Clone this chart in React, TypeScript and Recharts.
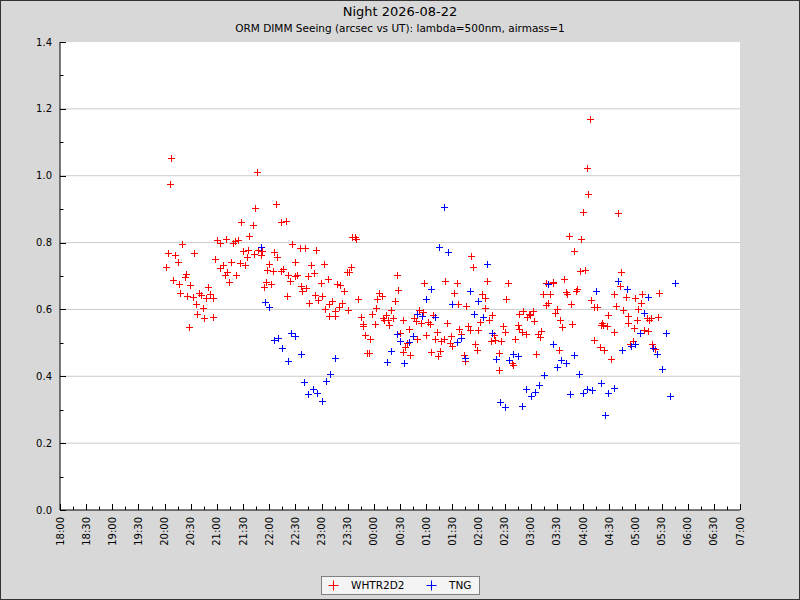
import { ScatterChart, Scatter, XAxis, YAxis, CartesianGrid, Legend } from "recharts";

// ORM DIMM seeing, night 2026-08-22. Times are UT, values are arcsec.
const whtrTime = [
  "20:02", "20:04", "20:06", "20:07", "20:10", "20:12", "20:15", "20:17", "20:18", "20:20",
  "20:23", "20:25", "20:26", "20:28", "20:29", "20:32", "20:34", "20:36", "20:37", "20:40",
  "20:42", "20:44", "20:45", "20:48", "20:50", "20:52", "20:55", "20:56", "20:58", "21:00",
  "21:03", "21:04", "21:07", "21:09", "21:10", "21:12", "21:14", "21:16", "21:18", "21:21",
  "21:22", "21:24", "21:26", "21:28", "21:30", "21:32", "21:34", "21:36", "21:37", "21:41",
  "21:42", "21:44", "21:46", "21:47", "21:50", "21:52", "21:54", "21:56", "21:58", "22:00",
  "22:02", "22:04", "22:06", "22:08", "22:09", "22:13", "22:14", "22:16", "22:19", "22:20",
  "22:22", "22:24", "22:26", "22:29", "22:30", "22:32", "22:35", "22:36", "22:38", "22:41",
  "22:42", "22:44", "22:46", "22:48", "22:51", "22:53", "22:54", "22:56", "22:59", "23:00",
  "23:03", "23:04", "23:07", "23:08", "23:09", "23:12", "23:15", "23:16", "23:18", "23:20",
  "23:21", "23:24", "23:26", "23:29", "23:30", "23:32", "23:34", "23:35", "23:38", "23:40",
  "23:42", "23:45", "23:47", "23:48", "23:50", "23:52", "23:54", "23:56", "23:58", "00:01",
  "00:02", "00:04", "00:06", "00:09", "00:11", "00:12", "00:14", "00:16", "00:17", "00:20",
  "00:22", "00:24", "00:26", "00:28", "00:30", "00:33", "00:34", "00:36", "00:38", "00:40",
  "00:42", "00:46", "00:48", "00:49", "00:52", "00:54", "00:56", "00:58", "01:00", "01:02",
  "01:04", "01:05", "01:08", "01:10", "01:12", "01:14", "01:16", "01:17", "01:21", "01:22",
  "01:24", "01:27", "01:28", "01:30", "01:32", "01:35", "01:36", "01:38", "01:40", "01:43",
  "01:44", "01:46", "01:48", "01:50", "01:52", "01:54", "01:56", "01:58", "02:00", "02:02",
  "02:04", "02:07", "02:08", "02:10", "02:12", "02:14", "02:16", "02:18", "02:19", "02:23",
  "02:24", "02:26", "02:28", "02:30", "02:32", "02:34", "02:39", "02:40", "02:42", "02:45",
  "02:46", "02:47", "02:50", "02:51", "02:55", "02:56", "02:58", "02:59", "03:02", "03:04",
  "03:06", "03:08", "03:11", "03:12", "03:14", "03:17", "03:18", "03:20", "03:22", "03:25",
  "03:26", "03:28", "03:30", "03:32", "03:34", "03:36", "03:38", "03:40", "03:42", "03:44",
  "03:46", "03:47", "03:50", "03:52", "03:53", "03:57", "03:58", "04:00", "04:02", "04:04",
  "04:06", "04:08", "04:09", "04:12", "04:13", "04:16", "04:19", "04:20", "04:22", "04:23",
  "04:24", "04:28", "04:29", "04:32", "04:35", "04:36", "04:38", "04:40", "04:42", "04:44",
  "04:46", "04:49", "04:51", "04:52", "04:54", "04:57", "04:58", "05:00", "05:02", "05:03",
  "05:07", "05:08", "05:10", "05:13", "05:14", "05:16", "05:18", "05:19", "05:23", "05:26",
  "05:27",
];
const whtrSeeing = [
  0.727, 0.769, 0.976, 1.052, 0.689, 0.763, 0.742, 0.676, 0.649, 0.796,
  0.697, 0.706, 0.640, 0.547, 0.673, 0.637, 0.769, 0.616, 0.586, 0.649,
  0.643, 0.604, 0.574, 0.634, 0.668, 0.646, 0.634, 0.577, 0.751, 0.809,
  0.799, 0.724, 0.733, 0.703, 0.811, 0.712, 0.682, 0.742, 0.799, 0.806,
  0.703, 0.808, 0.739, 0.863, 0.776, 0.733, 0.757, 0.779, 0.821, 0.853,
  0.766, 0.904, 1.012, 0.778, 0.763, 0.775, 0.667, 0.682, 0.718, 0.736,
  0.676, 0.715, 0.773, 0.916, 0.757, 0.862, 0.715, 0.721, 0.865, 0.640,
  0.703, 0.685, 0.796, 0.742, 0.700, 0.703, 0.784, 0.670, 0.655, 0.784,
  0.664, 0.700, 0.619, 0.733, 0.709, 0.643, 0.778, 0.628, 0.679, 0.640,
  0.736, 0.601, 0.691, 0.616, 0.580, 0.625, 0.595, 0.580, 0.676, 0.607,
  0.673, 0.619, 0.655, 0.712, 0.598, 0.712, 0.727, 0.818, 0.816, 0.811,
  0.631, 0.577, 0.550, 0.556, 0.523, 0.470, 0.470, 0.511, 0.586, 0.556,
  0.604, 0.631, 0.649, 0.640, 0.574, 0.568, 0.583, 0.568, 0.553, 0.598,
  0.574, 0.625, 0.703, 0.658, 0.529, 0.568, 0.473, 0.487, 0.499, 0.541,
  0.464, 0.574, 0.565, 0.511, 0.598, 0.559, 0.592, 0.679, 0.523, 0.562,
  0.556, 0.473, 0.583, 0.511, 0.532, 0.461, 0.476, 0.505, 0.511, 0.685,
  0.559, 0.499, 0.520, 0.490, 0.649, 0.679, 0.616, 0.541, 0.526, 0.464,
  0.446, 0.610, 0.550, 0.538, 0.760, 0.727, 0.496, 0.479, 0.538, 0.562,
  0.646, 0.604, 0.634, 0.685, 0.568, 0.505, 0.583, 0.523, 0.508, 0.470,
  0.419, 0.505, 0.550, 0.532, 0.631, 0.679, 0.440, 0.434, 0.511, 0.553,
  0.541, 0.586, 0.532, 0.595, 0.526, 0.577, 0.586, 0.583, 0.595, 0.565,
  0.467, 0.526, 0.517, 0.535, 0.646, 0.613, 0.679, 0.619, 0.646, 0.682,
  0.679, 0.589, 0.601, 0.479, 0.568, 0.547, 0.691, 0.652, 0.646, 0.820,
  0.616, 0.556, 0.775, 0.655, 0.661, 0.715, 0.811, 0.892, 0.718, 1.024,
  0.946, 1.171, 0.628, 0.607, 0.508, 0.607, 0.487, 0.553, 0.559, 0.553,
  0.479, 0.550, 0.583, 0.452, 0.532, 0.646, 0.610, 0.889, 0.670, 0.712,
  0.598, 0.637, 0.559, 0.580, 0.496, 0.505, 0.544, 0.634, 0.568, 0.601,
  0.619, 0.646, 0.538, 0.574, 0.535, 0.568, 0.574, 0.496, 0.482, 0.577,
  0.649,
];

const tngTime = [
  "21:50", "21:55", "22:00", "22:06", "22:10", "22:15", "22:21", "22:25", "22:30", "22:36",
  "22:40", "22:45", "22:50", "22:55", "23:01", "23:05", "23:10", "23:15", "00:15", "00:20",
  "00:26", "00:30", "00:35", "00:40", "00:45", "00:50", "00:55", "01:00", "01:05", "01:10",
  "01:15", "01:21", "01:25", "01:30", "01:35", "01:40", "01:45", "01:50", "01:55", "02:00",
  "02:05", "02:10", "02:15", "02:20", "02:25", "02:30", "02:35", "02:40", "02:45", "02:50",
  "02:55", "03:00", "03:05", "03:10", "03:15", "03:20", "03:25", "03:30", "03:35", "03:40",
  "03:45", "03:50", "03:55", "04:00", "04:05", "04:10", "04:15", "04:20", "04:25", "04:29",
  "04:35", "04:40", "04:45", "04:50", "04:55", "05:00", "05:05", "05:10", "05:15", "05:20",
  "05:25", "05:30", "05:35", "05:40", "05:45",
];
const tngSeeing = [
  0.787, 0.622, 0.607, 0.508, 0.514, 0.485, 0.446, 0.529, 0.520, 0.467,
  0.383, 0.347, 0.362, 0.350, 0.326, 0.386, 0.407, 0.455, 0.443, 0.476,
  0.526, 0.505, 0.440, 0.502, 0.520, 0.586, 0.580, 0.631, 0.661, 0.577,
  0.787, 0.907, 0.772, 0.616, 0.502, 0.514, 0.455, 0.655, 0.586, 0.625,
  0.577, 0.736, 0.529, 0.451, 0.323, 0.308, 0.449, 0.467, 0.461, 0.311,
  0.362, 0.341, 0.353, 0.374, 0.404, 0.676, 0.496, 0.428, 0.449, 0.440,
  0.347, 0.464, 0.407, 0.350, 0.362, 0.359, 0.655, 0.380, 0.284, 0.350,
  0.365, 0.685, 0.479, 0.661, 0.490, 0.496, 0.529, 0.589, 0.637, 0.485,
  0.467, 0.422, 0.529, 0.341, 0.679,
];

const xLabels = [
  "18:00", "18:30", "19:00", "19:30", "20:00", "20:30", "21:00", "21:30", "22:00",
  "22:30", "23:00", "23:30", "00:00", "00:30", "01:00", "01:30", "02:00", "02:30",
  "03:00", "03:30", "04:00", "04:30", "05:00", "05:30", "06:00", "06:30", "07:00",
];
const yLabels = ["0.0", "0.2", "0.4", "0.6", "0.8", "1.0", "1.2", "1.4"];

const seriesNames = ["WHTR2D2", "TNG"];
const seriesColors = ["#ff0000", "#0000ff"];

const FONT = "DejaVu Sans";

// UT past midnight continues the evening (00:30 -> 24.5)
const toHours = (t: string) => {
  const [h, m] = t.split(":").map(Number);
  return (h < 12 ? h + 24 : h) + m / 60;
};
const pad = (n: number) => String(n).padStart(2, "0");
const fmtHours = (v: number) => {
  const mins = Math.round(v * 60);
  return `${pad(Math.floor(mins / 60) % 24)}:${pad(mins % 60)}`;
};

const whtrData = whtrTime.map((t, i) => ({ t: toHours(t), v: whtrSeeing[i] }));
const tngData = tngTime.map((t, i) => ({ t: toHours(t), v: tngSeeing[i] }));

// labelled ticks every 30 min / 0.2", short unlabelled ones in between
const xMajor = xLabels.map(toHours);
const xTicks = xMajor.flatMap((v, i) => (i < xMajor.length - 1 ? [v, v + 0.25] : [v]));
const yMajor = yLabels.map(Number);
const yTicks = yMajor.flatMap((v, i) => (i < yMajor.length - 1 ? [v, v + 0.1] : [v]));
const gridValues = yMajor.slice(1, -1);

function Cross(props: any) {
  const { cx, cy, color } = props;
  if (cx == null || cy == null) return null;
  const c = Math.round(cx) + 0.5;
  const r = Math.round(cy) + 0.5;
  return (
    <path
      d={`M${c - 3.5},${r}H${c + 3.5}M${c},${r - 3.5}V${r + 3.5}`}
      stroke={color}
      strokeWidth={1}
      fill="none"
    />
  );
}

function XTick({ x, y, payload }: any) {
  const v = payload.value;
  const major = Math.abs(v * 2 - Math.round(v * 2)) < 1e-6;
  const px = Math.round(x) + 0.5;
  return (
    <g>
      <line x1={px} x2={px} y1={y} y2={y - (major ? 6 : 3.5)} stroke="#000" />
      {major && (
        <text
          transform={`translate(${x},${y + 7}) rotate(-90)`}
          textAnchor="end"
          dominantBaseline="central"
          fontSize={10}
          fontFamily={FONT}
          fill="#000"
        >
          {fmtHours(v)}
        </text>
      )}
    </g>
  );
}

function YTick({ x, y, payload }: any) {
  const v = payload.value;
  const major = Math.abs(v * 5 - Math.round(v * 5)) < 1e-6;
  const py = Math.round(y) + 0.5;
  return (
    <g>
      <line x1={x} x2={x + (major ? 6 : 3.5)} y1={py} y2={py} stroke="#000" />
      {major && (
        <text x={x - 8} y={y} textAnchor="end" dominantBaseline="central" fontSize={10} fontFamily={FONT} fill="#000">
          {v.toFixed(1)}
        </text>
      )}
    </g>
  );
}

function LegendBox() {
  return (
    <svg width={162} height={20}>
      <rect x={1.5} y={0.5} width={158} height={18} fill="#f4f4f4" stroke="#808080" />
      {seriesNames.map((name, i) => {
        const cx = 13.5 + i * 98;
        return (
          <g key={name}>
            <path d={`M${cx - 5},9.5H${cx + 5}M${cx},4.5V14.5`} stroke={seriesColors[i]} strokeWidth={1} />
            <text x={31 + i * 98} y={13} fontSize={10.5} fontFamily={FONT} fill="#000">
              {name}
            </text>
          </g>
        );
      })}
    </svg>
  );
}

export default function App() {
  return (
    <div style={{ position: "absolute", left: 0, top: 0, width: 800, height: 600, background: "#d8d8d8" }}>
      <svg width={800} height={600} style={{ position: "absolute", left: 0, top: 0 }}>
        <rect x={0.5} y={0.5} width={799} height={599} fill="none" stroke="#333" />
        <text x={400} y={16} textAnchor="middle" fontSize={13} fontFamily={FONT} fill="#000">
          Night 2026-08-22
        </text>
        <text x={400} y={32} textAnchor="middle" fontSize={10.5} fontFamily={FONT} fill="#000">
          ORM DIMM Seeing (arcsec vs UT): lambda=500nm, airmass=1
        </text>
      </svg>
      <div style={{ position: "absolute", left: 0, top: 0 }}>
        <ScatterChart width={800} height={600} margin={{ top: 42, right: 60, bottom: 0, left: 0 }}>
          <CartesianGrid fill="#ffffff" vertical={false} horizontalValues={gridValues} stroke="#cccccc" />
          <XAxis
            type="number"
            dataKey="t"
            domain={[18, 31]}
            ticks={xTicks}
            interval={0}
            height={90}
            tickSize={0}
            tickMargin={0}
            tickLine={false}
            tick={<XTick />}
            axisLine={{ stroke: "#000" }}
          />
          <YAxis
            type="number"
            dataKey="v"
            domain={[0, 1.4]}
            ticks={yTicks}
            interval={0}
            width={60}
            tickSize={0}
            tickMargin={0}
            tickLine={false}
            tick={<YTick />}
            axisLine={{ stroke: "#000" }}
          />
          <Scatter
            name={seriesNames[0]}
            data={whtrData}
            fill={seriesColors[0]}
            shape={<Cross color={seriesColors[0]} />}
            isAnimationActive={false}
          />
          <Scatter
            name={seriesNames[1]}
            data={tngData}
            fill={seriesColors[1]}
            shape={<Cross color={seriesColors[1]} />}
            isAnimationActive={false}
          />
          <Legend
            layout="horizontal"
            verticalAlign="middle"
            content={<LegendBox />}
            wrapperStyle={{ left: 320, top: 576, width: 162, height: 20 }}
          />
        </ScatterChart>
      </div>
    </div>
  );
}
